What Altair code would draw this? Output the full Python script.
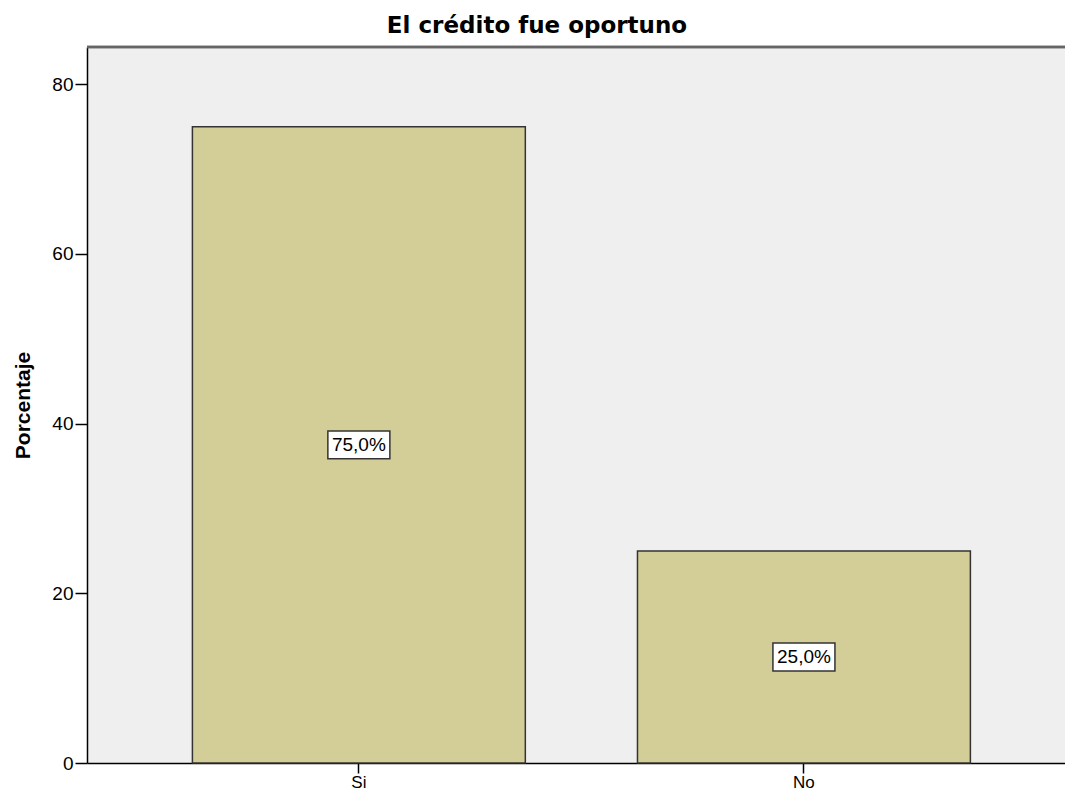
import altair as alt
import pandas as pd

categories = ["Si", "No"]
percentages = [75.0, 25.0]
labels = ["75,0%", "25,0%"]

df = pd.DataFrame({"cat": categories, "pct": percentages, "label": labels})
df["mid"] = df["pct"] / 2

W = 978
H = 716

x_enc = alt.X("cat:N", sort=categories, title=None,
              scale=alt.Scale(paddingInner=0.252, paddingOuter=0.2247, align=0.527),
              axis=alt.Axis(labelAngle=0, labelFontSize=17, labelFont="Liberation Sans",
                            labelColor="#000", tickSize=10, tickColor="#000", tickWidth=1.5,
                            domainColor="#000", domainWidth=1.5, labelPadding=1))

y_scale = alt.Scale(domain=[0, 84.4], nice=False)

bars = alt.Chart(df).mark_bar(color="#d3ce98", stroke="#333333", strokeWidth=1.5).encode(
    x=x_enc,
    y=alt.Y("pct:Q", scale=y_scale, title="Porcentaje",
            axis=alt.Axis(values=[0, 20, 40, 60, 80], grid=False, labelFontSize=19,
                          labelFont="Liberation Sans", labelColor="#000",
                          tickSize=12, tickColor="#000", tickWidth=1.5,
                          domainColor="#000", domainWidth=1.5, labelPadding=2,
                          titleFont="Liberation Sans", titleFontSize=21, titleFontWeight="bold",
                          titleColor="#000", titlePadding=18)),
)

top_border = alt.Chart(df).mark_rule(color="#666666", strokeWidth=2.5).encode(
    x=alt.value(0), x2=alt.value(W + 10), y=alt.value(0)
)

boxes = alt.Chart(df).mark_point(
    shape="M-1,-0.45L1,-0.45L1,0.45L-1,0.45Z", filled=True, fill="white",
    stroke="#333333", strokeWidth=1.5, opacity=1, size=3844,
).encode(
    x=alt.X("cat:N", sort=categories),
    y=alt.Y("mid:Q", scale=y_scale),
)

texts = alt.Chart(df).mark_text(font="Liberation Sans", fontSize=19, color="#000").encode(
    x=alt.X("cat:N", sort=categories),
    y=alt.Y("mid:Q", scale=y_scale),
    text="label:N",
)

chart = alt.layer(bars, top_border, boxes, texts).properties(
    width=W, height=H,
    title=alt.TitleParams("El crédito fue oportuno", font="DejaVu Sans", fontSize=23,
                          fontWeight="bold", color="#000", anchor="middle", offset=8, dx=-39),
    autosize=alt.AutoSizeParams(type="none"),
    padding={"left": 79, "top": 39, "right": 0, "bottom": 27},
).configure_view(fill="#efefef", stroke="transparent", strokeWidth=0)

chart.save("out.html", embed_options={"renderer": "svg", "actions": False})
